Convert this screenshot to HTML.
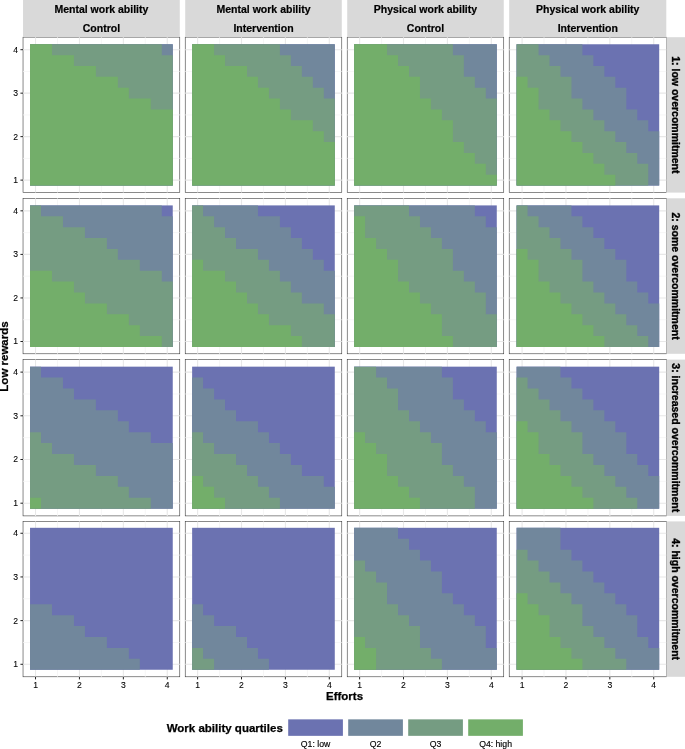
<!DOCTYPE html>
<html lang="en"><head><meta charset="utf-8"><title>Work ability quartiles</title>
<style>html,body{margin:0;padding:0;background:#fff}body{width:685px;height:749px;overflow:hidden;font-family:"Liberation Sans",Arial,Helvetica,sans-serif}svg{display:block}</style>
</head><body>
<svg width="685" height="749" viewBox="0 0 685 749" font-family="'Liberation Sans', Arial, Helvetica, sans-serif">
<rect width="685" height="749" fill="#fff"/>
<rect x="23.03" y="37.2" width="156.75" height="155.4" fill="#fff"/>
<rect x="23.03" y="37.2" width="156.75" height="155.4" fill="none" stroke="#2b2b2b" stroke-width="0.55"/>
<path d="M57.48 37.2V192.6M23.03 158.37H179.78" stroke="#F4F4F4" stroke-width="0.8" fill="none"/>
<path d="M101.39 37.2V192.6M23.03 114.9H179.78" stroke="#F4F4F4" stroke-width="0.8" fill="none"/>
<path d="M145.3 37.2V192.6M23.03 71.43H179.78" stroke="#F4F4F4" stroke-width="0.8" fill="none"/>
<path d="M35.52 37.2V192.6M23.03 180.11H179.78" stroke="#E8E8E8" stroke-width="1.1" fill="none"/>
<path d="M79.43 37.2V192.6M23.03 136.64H179.78" stroke="#E8E8E8" stroke-width="1.1" fill="none"/>
<path d="M123.35 37.2V192.6M23.03 93.16H179.78" stroke="#E8E8E8" stroke-width="1.1" fill="none"/>
<path d="M167.26 37.2V192.6M23.03 49.69H179.78" stroke="#E8E8E8" stroke-width="1.1" fill="none"/>
<rect x="30.03" y="44.26" width="142.72" height="141.28" fill="#6B72B1"/>
<path d="M30.03 44.26L172.75 44.26L172.75 55.13L172.75 55.13L172.75 66L172.75 66L172.75 76.86L172.75 76.86L172.75 87.73L172.75 87.73L172.75 98.6L172.75 98.6L172.75 109.47L172.75 109.47L172.75 120.33L172.75 120.33L172.75 131.2L172.75 131.2L172.75 142.07L172.75 142.07L172.75 152.94L172.75 152.94L172.75 163.8L172.75 163.8L172.75 174.67L172.75 174.67L172.75 185.54L30.03 185.54Z" fill="#71879C"/>
<path d="M30.03 44.26L161.77 44.26L161.77 55.13L172.75 55.13L172.75 66L172.75 66L172.75 76.86L172.75 76.86L172.75 87.73L172.75 87.73L172.75 98.6L172.75 98.6L172.75 109.47L172.75 109.47L172.75 120.33L172.75 120.33L172.75 131.2L172.75 131.2L172.75 142.07L172.75 142.07L172.75 152.94L172.75 152.94L172.75 163.8L172.75 163.8L172.75 174.67L172.75 174.67L172.75 185.54L30.03 185.54Z" fill="#759C82"/>
<path d="M30.03 44.26L51.99 44.26L51.99 55.13L73.94 55.13L73.94 66L95.9 66L95.9 76.86L117.86 76.86L117.86 87.73L128.84 87.73L128.84 98.6L150.79 98.6L150.79 109.47L172.75 109.47L172.75 120.33L172.75 120.33L172.75 131.2L172.75 131.2L172.75 142.07L172.75 142.07L172.75 152.94L172.75 152.94L172.75 163.8L172.75 163.8L172.75 174.67L172.75 174.67L172.75 185.54L30.03 185.54Z" fill="#73AE6A"/>
<path d="M20.43 180.11H23.03" stroke="#222222" stroke-width="1.0"/>
<text x="18.13" y="183.08" font-size="8.6" text-anchor="end" fill="#000" stroke="#000" stroke-width="0.1">1</text>
<path d="M20.43 136.64H23.03" stroke="#222222" stroke-width="1.0"/>
<text x="18.13" y="139.61" font-size="8.6" text-anchor="end" fill="#000" stroke="#000" stroke-width="0.1">2</text>
<path d="M20.43 93.16H23.03" stroke="#222222" stroke-width="1.0"/>
<text x="18.13" y="96.14" font-size="8.6" text-anchor="end" fill="#000" stroke="#000" stroke-width="0.1">3</text>
<path d="M20.43 49.69H23.03" stroke="#222222" stroke-width="1.0"/>
<text x="18.13" y="52.67" font-size="8.6" text-anchor="end" fill="#000" stroke="#000" stroke-width="0.1">4</text>
<rect x="185.21" y="37.2" width="156.57" height="155.4" fill="#fff"/>
<rect x="185.21" y="37.2" width="156.57" height="155.4" fill="none" stroke="#2b2b2b" stroke-width="0.55"/>
<path d="M219.56 37.2V192.6M185.21 158.37H341.78" stroke="#F4F4F4" stroke-width="0.8" fill="none"/>
<path d="M263.45 37.2V192.6M185.21 114.9H341.78" stroke="#F4F4F4" stroke-width="0.8" fill="none"/>
<path d="M307.35 37.2V192.6M185.21 71.43H341.78" stroke="#F4F4F4" stroke-width="0.8" fill="none"/>
<path d="M197.62 37.2V192.6M185.21 180.11H341.78" stroke="#E8E8E8" stroke-width="1.1" fill="none"/>
<path d="M241.51 37.2V192.6M185.21 136.64H341.78" stroke="#E8E8E8" stroke-width="1.1" fill="none"/>
<path d="M285.4 37.2V192.6M185.21 93.16H341.78" stroke="#E8E8E8" stroke-width="1.1" fill="none"/>
<path d="M329.29 37.2V192.6M185.21 49.69H341.78" stroke="#E8E8E8" stroke-width="1.1" fill="none"/>
<rect x="192.13" y="44.26" width="142.65" height="141.28" fill="#6B72B1"/>
<path d="M192.13 44.26L334.78 44.26L334.78 55.13L334.78 55.13L334.78 66L334.78 66L334.78 76.86L334.78 76.86L334.78 87.73L334.78 87.73L334.78 98.6L334.78 98.6L334.78 109.47L334.78 109.47L334.78 120.33L334.78 120.33L334.78 131.2L334.78 131.2L334.78 142.07L334.78 142.07L334.78 152.94L334.78 152.94L334.78 163.8L334.78 163.8L334.78 174.67L334.78 174.67L334.78 185.54L192.13 185.54Z" fill="#71879C"/>
<path d="M192.13 44.26L279.91 44.26L279.91 55.13L290.89 55.13L290.89 66L301.86 66L301.86 76.86L312.83 76.86L312.83 87.73L323.81 87.73L323.81 98.6L334.78 98.6L334.78 109.47L334.78 109.47L334.78 120.33L334.78 120.33L334.78 131.2L334.78 131.2L334.78 142.07L334.78 142.07L334.78 152.94L334.78 152.94L334.78 163.8L334.78 163.8L334.78 174.67L334.78 174.67L334.78 185.54L192.13 185.54Z" fill="#759C82"/>
<path d="M192.13 44.26L214.08 44.26L214.08 55.13L225.05 55.13L225.05 66L247 66L247 76.86L257.97 76.86L257.97 87.73L268.94 87.73L268.94 98.6L279.91 98.6L279.91 109.47L290.89 109.47L290.89 120.33L312.83 120.33L312.83 131.2L323.81 131.2L323.81 142.07L334.78 142.07L334.78 152.94L334.78 152.94L334.78 163.8L334.78 163.8L334.78 174.67L334.78 174.67L334.78 185.54L192.13 185.54Z" fill="#73AE6A"/>
<rect x="347.21" y="37.2" width="156.54" height="155.4" fill="#fff"/>
<rect x="347.21" y="37.2" width="156.54" height="155.4" fill="none" stroke="#2b2b2b" stroke-width="0.55"/>
<path d="M381.56 37.2V192.6M347.21 158.37H503.75" stroke="#F4F4F4" stroke-width="0.8" fill="none"/>
<path d="M425.45 37.2V192.6M347.21 114.9H503.75" stroke="#F4F4F4" stroke-width="0.8" fill="none"/>
<path d="M469.35 37.2V192.6M347.21 71.43H503.75" stroke="#F4F4F4" stroke-width="0.8" fill="none"/>
<path d="M359.62 37.2V192.6M347.21 180.11H503.75" stroke="#E8E8E8" stroke-width="1.1" fill="none"/>
<path d="M403.51 37.2V192.6M347.21 136.64H503.75" stroke="#E8E8E8" stroke-width="1.1" fill="none"/>
<path d="M447.4 37.2V192.6M347.21 93.16H503.75" stroke="#E8E8E8" stroke-width="1.1" fill="none"/>
<path d="M491.29 37.2V192.6M347.21 49.69H503.75" stroke="#E8E8E8" stroke-width="1.1" fill="none"/>
<rect x="354.13" y="44.26" width="142.65" height="141.28" fill="#6B72B1"/>
<path d="M354.13 44.26L496.78 44.26L496.78 55.13L496.78 55.13L496.78 66L496.78 66L496.78 76.86L496.78 76.86L496.78 87.73L496.78 87.73L496.78 98.6L496.78 98.6L496.78 109.47L496.78 109.47L496.78 120.33L496.78 120.33L496.78 131.2L496.78 131.2L496.78 142.07L496.78 142.07L496.78 152.94L496.78 152.94L496.78 163.8L496.78 163.8L496.78 174.67L496.78 174.67L496.78 185.54L354.13 185.54Z" fill="#71879C"/>
<path d="M354.13 44.26L452.89 44.26L452.89 55.13L463.86 55.13L463.86 66L463.86 66L463.86 76.86L474.83 76.86L474.83 87.73L485.81 87.73L485.81 98.6L496.78 98.6L496.78 109.47L496.78 109.47L496.78 120.33L496.78 120.33L496.78 131.2L496.78 131.2L496.78 142.07L496.78 142.07L496.78 152.94L496.78 152.94L496.78 163.8L496.78 163.8L496.78 174.67L496.78 174.67L496.78 185.54L354.13 185.54Z" fill="#759C82"/>
<path d="M354.13 44.26L387.05 44.26L387.05 55.13L398.02 55.13L398.02 66L409 66L409 76.86L419.97 76.86L419.97 87.73L419.97 87.73L419.97 98.6L430.94 98.6L430.94 109.47L441.91 109.47L441.91 120.33L452.89 120.33L452.89 131.2L452.89 131.2L452.89 142.07L463.86 142.07L463.86 152.94L474.83 152.94L474.83 163.8L485.81 163.8L485.81 174.67L496.78 174.67L496.78 185.54L354.13 185.54Z" fill="#73AE6A"/>
<rect x="509.2" y="37.2" width="157.1" height="155.4" fill="#fff"/>
<rect x="509.2" y="37.2" width="157.1" height="155.4" fill="none" stroke="#2b2b2b" stroke-width="0.55"/>
<path d="M544.02 37.2V192.6M509.2 158.37H666.3" stroke="#F4F4F4" stroke-width="0.8" fill="none"/>
<path d="M587.9 37.2V192.6M509.2 114.9H666.3" stroke="#F4F4F4" stroke-width="0.8" fill="none"/>
<path d="M631.78 37.2V192.6M509.2 71.43H666.3" stroke="#F4F4F4" stroke-width="0.8" fill="none"/>
<path d="M522.08 37.2V192.6M509.2 180.11H666.3" stroke="#E8E8E8" stroke-width="1.1" fill="none"/>
<path d="M565.96 37.2V192.6M509.2 136.64H666.3" stroke="#E8E8E8" stroke-width="1.1" fill="none"/>
<path d="M609.84 37.2V192.6M509.2 93.16H666.3" stroke="#E8E8E8" stroke-width="1.1" fill="none"/>
<path d="M653.72 37.2V192.6M509.2 49.69H666.3" stroke="#E8E8E8" stroke-width="1.1" fill="none"/>
<rect x="516.6" y="44.26" width="142.6" height="141.28" fill="#6B72B1"/>
<path d="M516.6 44.26L582.42 44.26L582.42 55.13L593.38 55.13L593.38 66L604.35 66L604.35 76.86L615.32 76.86L615.32 87.73L626.29 87.73L626.29 98.6L626.29 98.6L626.29 109.47L637.26 109.47L637.26 120.33L648.23 120.33L648.23 131.2L659.2 131.2L659.2 142.07L659.2 142.07L659.2 152.94L659.2 152.94L659.2 163.8L659.2 163.8L659.2 174.67L659.2 174.67L659.2 185.54L516.6 185.54Z" fill="#71879C"/>
<path d="M516.6 44.26L538.54 44.26L538.54 55.13L549.51 55.13L549.51 66L560.48 66L560.48 76.86L571.45 76.86L571.45 87.73L571.45 87.73L571.45 98.6L582.42 98.6L582.42 109.47L593.38 109.47L593.38 120.33L604.35 120.33L604.35 131.2L615.32 131.2L615.32 142.07L626.29 142.07L626.29 152.94L637.26 152.94L637.26 163.8L648.23 163.8L648.23 174.67L648.23 174.67L648.23 185.54L516.6 185.54Z" fill="#759C82"/>
<path d="M516.6 76.86L527.57 76.86L527.57 87.73L538.54 87.73L538.54 98.6L538.54 98.6L538.54 109.47L549.51 109.47L549.51 120.33L560.48 120.33L560.48 131.2L571.45 131.2L571.45 142.07L582.42 142.07L582.42 152.94L593.38 152.94L593.38 163.8L604.35 163.8L604.35 174.67L615.32 174.67L615.32 185.54L516.6 185.54Z" fill="#73AE6A"/>
<rect x="23.03" y="198.3" width="156.75" height="155.5" fill="#fff"/>
<rect x="23.03" y="198.3" width="156.75" height="155.5" fill="none" stroke="#2b2b2b" stroke-width="0.55"/>
<path d="M57.48 198.3V353.8M23.03 319.73H179.78" stroke="#F4F4F4" stroke-width="0.8" fill="none"/>
<path d="M101.39 198.3V353.8M23.03 276.18H179.78" stroke="#F4F4F4" stroke-width="0.8" fill="none"/>
<path d="M145.3 198.3V353.8M23.03 232.62H179.78" stroke="#F4F4F4" stroke-width="0.8" fill="none"/>
<path d="M35.52 198.3V353.8M23.03 341.51H179.78" stroke="#E8E8E8" stroke-width="1.1" fill="none"/>
<path d="M79.43 198.3V353.8M23.03 297.95H179.78" stroke="#E8E8E8" stroke-width="1.1" fill="none"/>
<path d="M123.35 198.3V353.8M23.03 254.4H179.78" stroke="#E8E8E8" stroke-width="1.1" fill="none"/>
<path d="M167.26 198.3V353.8M23.03 210.84H179.78" stroke="#E8E8E8" stroke-width="1.1" fill="none"/>
<rect x="30.03" y="205.4" width="142.72" height="141.55" fill="#6B72B1"/>
<path d="M30.03 205.4L161.77 205.4L161.77 216.29L172.75 216.29L172.75 227.18L172.75 227.18L172.75 238.07L172.75 238.07L172.75 248.95L172.75 248.95L172.75 259.84L172.75 259.84L172.75 270.73L172.75 270.73L172.75 281.62L172.75 281.62L172.75 292.51L172.75 292.51L172.75 303.4L172.75 303.4L172.75 314.28L172.75 314.28L172.75 325.17L172.75 325.17L172.75 336.06L172.75 336.06L172.75 346.95L30.03 346.95Z" fill="#71879C"/>
<path d="M30.03 205.4L41.01 205.4L41.01 216.29L62.97 216.29L62.97 227.18L84.92 227.18L84.92 238.07L106.88 238.07L106.88 248.95L117.86 248.95L117.86 259.84L139.81 259.84L139.81 270.73L161.77 270.73L161.77 281.62L172.75 281.62L172.75 292.51L172.75 292.51L172.75 303.4L172.75 303.4L172.75 314.28L172.75 314.28L172.75 325.17L172.75 325.17L172.75 336.06L172.75 336.06L172.75 346.95L30.03 346.95Z" fill="#759C82"/>
<path d="M30.03 270.73L51.99 270.73L51.99 281.62L73.94 281.62L73.94 292.51L84.92 292.51L84.92 303.4L106.88 303.4L106.88 314.28L128.84 314.28L128.84 325.17L139.81 325.17L139.81 336.06L161.77 336.06L161.77 346.95L30.03 346.95Z" fill="#73AE6A"/>
<path d="M20.43 341.51H23.03" stroke="#222222" stroke-width="1.0"/>
<text x="18.13" y="344.48" font-size="8.6" text-anchor="end" fill="#000" stroke="#000" stroke-width="0.1">1</text>
<path d="M20.43 297.95H23.03" stroke="#222222" stroke-width="1.0"/>
<text x="18.13" y="300.93" font-size="8.6" text-anchor="end" fill="#000" stroke="#000" stroke-width="0.1">2</text>
<path d="M20.43 254.4H23.03" stroke="#222222" stroke-width="1.0"/>
<text x="18.13" y="257.38" font-size="8.6" text-anchor="end" fill="#000" stroke="#000" stroke-width="0.1">3</text>
<path d="M20.43 210.84H23.03" stroke="#222222" stroke-width="1.0"/>
<text x="18.13" y="213.82" font-size="8.6" text-anchor="end" fill="#000" stroke="#000" stroke-width="0.1">4</text>
<rect x="185.21" y="198.3" width="156.57" height="155.5" fill="#fff"/>
<rect x="185.21" y="198.3" width="156.57" height="155.5" fill="none" stroke="#2b2b2b" stroke-width="0.55"/>
<path d="M219.56 198.3V353.8M185.21 319.73H341.78" stroke="#F4F4F4" stroke-width="0.8" fill="none"/>
<path d="M263.45 198.3V353.8M185.21 276.18H341.78" stroke="#F4F4F4" stroke-width="0.8" fill="none"/>
<path d="M307.35 198.3V353.8M185.21 232.62H341.78" stroke="#F4F4F4" stroke-width="0.8" fill="none"/>
<path d="M197.62 198.3V353.8M185.21 341.51H341.78" stroke="#E8E8E8" stroke-width="1.1" fill="none"/>
<path d="M241.51 198.3V353.8M185.21 297.95H341.78" stroke="#E8E8E8" stroke-width="1.1" fill="none"/>
<path d="M285.4 198.3V353.8M185.21 254.4H341.78" stroke="#E8E8E8" stroke-width="1.1" fill="none"/>
<path d="M329.29 198.3V353.8M185.21 210.84H341.78" stroke="#E8E8E8" stroke-width="1.1" fill="none"/>
<rect x="192.13" y="205.4" width="142.65" height="141.55" fill="#6B72B1"/>
<path d="M192.13 205.4L257.97 205.4L257.97 216.29L279.91 216.29L279.91 227.18L290.89 227.18L290.89 238.07L301.86 238.07L301.86 248.95L312.83 248.95L312.83 259.84L323.81 259.84L323.81 270.73L334.78 270.73L334.78 281.62L334.78 281.62L334.78 292.51L334.78 292.51L334.78 303.4L334.78 303.4L334.78 314.28L334.78 314.28L334.78 325.17L334.78 325.17L334.78 336.06L334.78 336.06L334.78 346.95L192.13 346.95Z" fill="#71879C"/>
<path d="M192.13 205.4L203.1 205.4L203.1 216.29L214.08 216.29L214.08 227.18L225.05 227.18L225.05 238.07L236.02 238.07L236.02 248.95L257.97 248.95L257.97 259.84L268.94 259.84L268.94 270.73L279.91 270.73L279.91 281.62L290.89 281.62L290.89 292.51L301.86 292.51L301.86 303.4L323.81 303.4L323.81 314.28L334.78 314.28L334.78 325.17L334.78 325.17L334.78 336.06L334.78 336.06L334.78 346.95L192.13 346.95Z" fill="#759C82"/>
<path d="M192.13 259.84L203.1 259.84L203.1 270.73L225.05 270.73L225.05 281.62L236.02 281.62L236.02 292.51L247 292.51L247 303.4L257.97 303.4L257.97 314.28L268.94 314.28L268.94 325.17L290.89 325.17L290.89 336.06L301.86 336.06L301.86 346.95L192.13 346.95Z" fill="#73AE6A"/>
<rect x="347.21" y="198.3" width="156.54" height="155.5" fill="#fff"/>
<rect x="347.21" y="198.3" width="156.54" height="155.5" fill="none" stroke="#2b2b2b" stroke-width="0.55"/>
<path d="M381.56 198.3V353.8M347.21 319.73H503.75" stroke="#F4F4F4" stroke-width="0.8" fill="none"/>
<path d="M425.45 198.3V353.8M347.21 276.18H503.75" stroke="#F4F4F4" stroke-width="0.8" fill="none"/>
<path d="M469.35 198.3V353.8M347.21 232.62H503.75" stroke="#F4F4F4" stroke-width="0.8" fill="none"/>
<path d="M359.62 198.3V353.8M347.21 341.51H503.75" stroke="#E8E8E8" stroke-width="1.1" fill="none"/>
<path d="M403.51 198.3V353.8M347.21 297.95H503.75" stroke="#E8E8E8" stroke-width="1.1" fill="none"/>
<path d="M447.4 198.3V353.8M347.21 254.4H503.75" stroke="#E8E8E8" stroke-width="1.1" fill="none"/>
<path d="M491.29 198.3V353.8M347.21 210.84H503.75" stroke="#E8E8E8" stroke-width="1.1" fill="none"/>
<rect x="354.13" y="205.4" width="142.65" height="141.55" fill="#6B72B1"/>
<path d="M354.13 205.4L474.83 205.4L474.83 216.29L485.81 216.29L485.81 227.18L496.78 227.18L496.78 238.07L496.78 238.07L496.78 248.95L496.78 248.95L496.78 259.84L496.78 259.84L496.78 270.73L496.78 270.73L496.78 281.62L496.78 281.62L496.78 292.51L496.78 292.51L496.78 303.4L496.78 303.4L496.78 314.28L496.78 314.28L496.78 325.17L496.78 325.17L496.78 336.06L496.78 336.06L496.78 346.95L354.13 346.95Z" fill="#71879C"/>
<path d="M354.13 205.4L409 205.4L409 216.29L419.97 216.29L419.97 227.18L430.94 227.18L430.94 238.07L441.91 238.07L441.91 248.95L452.89 248.95L452.89 259.84L452.89 259.84L452.89 270.73L463.86 270.73L463.86 281.62L474.83 281.62L474.83 292.51L485.81 292.51L485.81 303.4L485.81 303.4L485.81 314.28L496.78 314.28L496.78 325.17L496.78 325.17L496.78 336.06L496.78 336.06L496.78 346.95L354.13 346.95Z" fill="#759C82"/>
<path d="M354.13 216.29L365.1 216.29L365.1 227.18L365.1 227.18L365.1 238.07L376.08 238.07L376.08 248.95L387.05 248.95L387.05 259.84L398.02 259.84L398.02 270.73L398.02 270.73L398.02 281.62L409 281.62L409 292.51L419.97 292.51L419.97 303.4L430.94 303.4L430.94 314.28L441.91 314.28L441.91 325.17L441.91 325.17L441.91 336.06L452.89 336.06L452.89 346.95L354.13 346.95Z" fill="#73AE6A"/>
<rect x="509.2" y="198.3" width="157.1" height="155.5" fill="#fff"/>
<rect x="509.2" y="198.3" width="157.1" height="155.5" fill="none" stroke="#2b2b2b" stroke-width="0.55"/>
<path d="M544.02 198.3V353.8M509.2 319.73H666.3" stroke="#F4F4F4" stroke-width="0.8" fill="none"/>
<path d="M587.9 198.3V353.8M509.2 276.18H666.3" stroke="#F4F4F4" stroke-width="0.8" fill="none"/>
<path d="M631.78 198.3V353.8M509.2 232.62H666.3" stroke="#F4F4F4" stroke-width="0.8" fill="none"/>
<path d="M522.08 198.3V353.8M509.2 341.51H666.3" stroke="#E8E8E8" stroke-width="1.1" fill="none"/>
<path d="M565.96 198.3V353.8M509.2 297.95H666.3" stroke="#E8E8E8" stroke-width="1.1" fill="none"/>
<path d="M609.84 198.3V353.8M509.2 254.4H666.3" stroke="#E8E8E8" stroke-width="1.1" fill="none"/>
<path d="M653.72 198.3V353.8M509.2 210.84H666.3" stroke="#E8E8E8" stroke-width="1.1" fill="none"/>
<rect x="516.6" y="205.4" width="142.6" height="141.55" fill="#6B72B1"/>
<path d="M516.6 205.4L571.45 205.4L571.45 216.29L582.42 216.29L582.42 227.18L593.38 227.18L593.38 238.07L604.35 238.07L604.35 248.95L615.32 248.95L615.32 259.84L626.29 259.84L626.29 270.73L626.29 270.73L626.29 281.62L637.26 281.62L637.26 292.51L648.23 292.51L648.23 303.4L659.2 303.4L659.2 314.28L659.2 314.28L659.2 325.17L659.2 325.17L659.2 336.06L659.2 336.06L659.2 346.95L516.6 346.95Z" fill="#71879C"/>
<path d="M516.6 205.4L527.57 205.4L527.57 216.29L538.54 216.29L538.54 227.18L549.51 227.18L549.51 238.07L560.48 238.07L560.48 248.95L571.45 248.95L571.45 259.84L582.42 259.84L582.42 270.73L582.42 270.73L582.42 281.62L593.38 281.62L593.38 292.51L604.35 292.51L604.35 303.4L615.32 303.4L615.32 314.28L626.29 314.28L626.29 325.17L637.26 325.17L637.26 336.06L648.23 336.06L648.23 346.95L516.6 346.95Z" fill="#759C82"/>
<path d="M516.6 248.95L527.57 248.95L527.57 259.84L538.54 259.84L538.54 270.73L538.54 270.73L538.54 281.62L549.51 281.62L549.51 292.51L560.48 292.51L560.48 303.4L571.45 303.4L571.45 314.28L582.42 314.28L582.42 325.17L593.38 325.17L593.38 336.06L604.35 336.06L604.35 346.95L516.6 346.95Z" fill="#73AE6A"/>
<rect x="23.03" y="359.6" width="156.75" height="156.3" fill="#fff"/>
<rect x="23.03" y="359.6" width="156.75" height="156.3" fill="none" stroke="#2b2b2b" stroke-width="0.55"/>
<path d="M57.48 359.6V515.9M23.03 481.34H179.78" stroke="#F4F4F4" stroke-width="0.8" fill="none"/>
<path d="M101.39 359.6V515.9M23.03 437.65H179.78" stroke="#F4F4F4" stroke-width="0.8" fill="none"/>
<path d="M145.3 359.6V515.9M23.03 393.97H179.78" stroke="#F4F4F4" stroke-width="0.8" fill="none"/>
<path d="M35.52 359.6V515.9M23.03 503.19H179.78" stroke="#E8E8E8" stroke-width="1.1" fill="none"/>
<path d="M79.43 359.6V515.9M23.03 459.5H179.78" stroke="#E8E8E8" stroke-width="1.1" fill="none"/>
<path d="M123.35 359.6V515.9M23.03 415.81H179.78" stroke="#E8E8E8" stroke-width="1.1" fill="none"/>
<path d="M167.26 359.6V515.9M23.03 372.12H179.78" stroke="#E8E8E8" stroke-width="1.1" fill="none"/>
<rect x="30.03" y="366.66" width="142.72" height="141.99" fill="#6B72B1"/>
<path d="M30.03 366.66L41.01 366.66L41.01 377.58L62.97 377.58L62.97 388.5L73.94 388.5L73.94 399.43L95.9 399.43L95.9 410.35L117.86 410.35L117.86 421.27L128.84 421.27L128.84 432.19L150.79 432.19L150.79 443.12L172.75 443.12L172.75 454.04L172.75 454.04L172.75 464.96L172.75 464.96L172.75 475.88L172.75 475.88L172.75 486.81L172.75 486.81L172.75 497.73L172.75 497.73L172.75 508.65L30.03 508.65Z" fill="#71879C"/>
<path d="M30.03 432.19L41.01 432.19L41.01 443.12L51.99 443.12L51.99 454.04L73.94 454.04L73.94 464.96L95.9 464.96L95.9 475.88L117.86 475.88L117.86 486.81L128.84 486.81L128.84 497.73L150.79 497.73L150.79 508.65L30.03 508.65Z" fill="#759C82"/>
<path d="M30.03 497.73L41.01 497.73L41.01 508.65L30.03 508.65Z" fill="#73AE6A"/>
<path d="M20.43 503.19H23.03" stroke="#222222" stroke-width="1.0"/>
<text x="18.13" y="506.17" font-size="8.6" text-anchor="end" fill="#000" stroke="#000" stroke-width="0.1">1</text>
<path d="M20.43 459.5H23.03" stroke="#222222" stroke-width="1.0"/>
<text x="18.13" y="462.48" font-size="8.6" text-anchor="end" fill="#000" stroke="#000" stroke-width="0.1">2</text>
<path d="M20.43 415.81H23.03" stroke="#222222" stroke-width="1.0"/>
<text x="18.13" y="418.79" font-size="8.6" text-anchor="end" fill="#000" stroke="#000" stroke-width="0.1">3</text>
<path d="M20.43 372.12H23.03" stroke="#222222" stroke-width="1.0"/>
<text x="18.13" y="375.1" font-size="8.6" text-anchor="end" fill="#000" stroke="#000" stroke-width="0.1">4</text>
<rect x="185.21" y="359.6" width="156.57" height="156.3" fill="#fff"/>
<rect x="185.21" y="359.6" width="156.57" height="156.3" fill="none" stroke="#2b2b2b" stroke-width="0.55"/>
<path d="M219.56 359.6V515.9M185.21 481.34H341.78" stroke="#F4F4F4" stroke-width="0.8" fill="none"/>
<path d="M263.45 359.6V515.9M185.21 437.65H341.78" stroke="#F4F4F4" stroke-width="0.8" fill="none"/>
<path d="M307.35 359.6V515.9M185.21 393.97H341.78" stroke="#F4F4F4" stroke-width="0.8" fill="none"/>
<path d="M197.62 359.6V515.9M185.21 503.19H341.78" stroke="#E8E8E8" stroke-width="1.1" fill="none"/>
<path d="M241.51 359.6V515.9M185.21 459.5H341.78" stroke="#E8E8E8" stroke-width="1.1" fill="none"/>
<path d="M285.4 359.6V515.9M185.21 415.81H341.78" stroke="#E8E8E8" stroke-width="1.1" fill="none"/>
<path d="M329.29 359.6V515.9M185.21 372.12H341.78" stroke="#E8E8E8" stroke-width="1.1" fill="none"/>
<rect x="192.13" y="366.66" width="142.65" height="141.99" fill="#6B72B1"/>
<path d="M192.13 377.58L203.1 377.58L203.1 388.5L214.08 388.5L214.08 399.43L225.05 399.43L225.05 410.35L236.02 410.35L236.02 421.27L257.97 421.27L257.97 432.19L268.94 432.19L268.94 443.12L279.91 443.12L279.91 454.04L290.89 454.04L290.89 464.96L301.86 464.96L301.86 475.88L323.81 475.88L323.81 486.81L334.78 486.81L334.78 497.73L334.78 497.73L334.78 508.65L192.13 508.65Z" fill="#71879C"/>
<path d="M192.13 432.19L203.1 432.19L203.1 443.12L214.08 443.12L214.08 454.04L236.02 454.04L236.02 464.96L247 464.96L247 475.88L257.97 475.88L257.97 486.81L268.94 486.81L268.94 497.73L279.91 497.73L279.91 508.65L192.13 508.65Z" fill="#759C82"/>
<path d="M192.13 475.88L203.1 475.88L203.1 486.81L214.08 486.81L214.08 497.73L225.05 497.73L225.05 508.65L192.13 508.65Z" fill="#73AE6A"/>
<rect x="347.21" y="359.6" width="156.54" height="156.3" fill="#fff"/>
<rect x="347.21" y="359.6" width="156.54" height="156.3" fill="none" stroke="#2b2b2b" stroke-width="0.55"/>
<path d="M381.56 359.6V515.9M347.21 481.34H503.75" stroke="#F4F4F4" stroke-width="0.8" fill="none"/>
<path d="M425.45 359.6V515.9M347.21 437.65H503.75" stroke="#F4F4F4" stroke-width="0.8" fill="none"/>
<path d="M469.35 359.6V515.9M347.21 393.97H503.75" stroke="#F4F4F4" stroke-width="0.8" fill="none"/>
<path d="M359.62 359.6V515.9M347.21 503.19H503.75" stroke="#E8E8E8" stroke-width="1.1" fill="none"/>
<path d="M403.51 359.6V515.9M347.21 459.5H503.75" stroke="#E8E8E8" stroke-width="1.1" fill="none"/>
<path d="M447.4 359.6V515.9M347.21 415.81H503.75" stroke="#E8E8E8" stroke-width="1.1" fill="none"/>
<path d="M491.29 359.6V515.9M347.21 372.12H503.75" stroke="#E8E8E8" stroke-width="1.1" fill="none"/>
<rect x="354.13" y="366.66" width="142.65" height="141.99" fill="#6B72B1"/>
<path d="M354.13 366.66L441.91 366.66L441.91 377.58L452.89 377.58L452.89 388.5L452.89 388.5L452.89 399.43L463.86 399.43L463.86 410.35L474.83 410.35L474.83 421.27L485.81 421.27L485.81 432.19L496.78 432.19L496.78 443.12L496.78 443.12L496.78 454.04L496.78 454.04L496.78 464.96L496.78 464.96L496.78 475.88L496.78 475.88L496.78 486.81L496.78 486.81L496.78 497.73L496.78 497.73L496.78 508.65L354.13 508.65Z" fill="#71879C"/>
<path d="M354.13 366.66L376.08 366.66L376.08 377.58L387.05 377.58L387.05 388.5L398.02 388.5L398.02 399.43L398.02 399.43L398.02 410.35L409 410.35L409 421.27L419.97 421.27L419.97 432.19L430.94 432.19L430.94 443.12L441.91 443.12L441.91 454.04L441.91 454.04L441.91 464.96L452.89 464.96L452.89 475.88L463.86 475.88L463.86 486.81L474.83 486.81L474.83 497.73L474.83 497.73L474.83 508.65L354.13 508.65Z" fill="#759C82"/>
<path d="M354.13 432.19L365.1 432.19L365.1 443.12L376.08 443.12L376.08 454.04L387.05 454.04L387.05 464.96L387.05 464.96L387.05 475.88L398.02 475.88L398.02 486.81L409 486.81L409 497.73L419.97 497.73L419.97 508.65L354.13 508.65Z" fill="#73AE6A"/>
<rect x="509.2" y="359.6" width="157.1" height="156.3" fill="#fff"/>
<rect x="509.2" y="359.6" width="157.1" height="156.3" fill="none" stroke="#2b2b2b" stroke-width="0.55"/>
<path d="M544.02 359.6V515.9M509.2 481.34H666.3" stroke="#F4F4F4" stroke-width="0.8" fill="none"/>
<path d="M587.9 359.6V515.9M509.2 437.65H666.3" stroke="#F4F4F4" stroke-width="0.8" fill="none"/>
<path d="M631.78 359.6V515.9M509.2 393.97H666.3" stroke="#F4F4F4" stroke-width="0.8" fill="none"/>
<path d="M522.08 359.6V515.9M509.2 503.19H666.3" stroke="#E8E8E8" stroke-width="1.1" fill="none"/>
<path d="M565.96 359.6V515.9M509.2 459.5H666.3" stroke="#E8E8E8" stroke-width="1.1" fill="none"/>
<path d="M609.84 359.6V515.9M509.2 415.81H666.3" stroke="#E8E8E8" stroke-width="1.1" fill="none"/>
<path d="M653.72 359.6V515.9M509.2 372.12H666.3" stroke="#E8E8E8" stroke-width="1.1" fill="none"/>
<rect x="516.6" y="366.66" width="142.6" height="141.99" fill="#6B72B1"/>
<path d="M516.6 366.66L560.48 366.66L560.48 377.58L571.45 377.58L571.45 388.5L582.42 388.5L582.42 399.43L593.38 399.43L593.38 410.35L604.35 410.35L604.35 421.27L615.32 421.27L615.32 432.19L626.29 432.19L626.29 443.12L626.29 443.12L626.29 454.04L637.26 454.04L637.26 464.96L648.23 464.96L648.23 475.88L659.2 475.88L659.2 486.81L659.2 486.81L659.2 497.73L659.2 497.73L659.2 508.65L516.6 508.65Z" fill="#71879C"/>
<path d="M516.6 377.58L527.57 377.58L527.57 388.5L538.54 388.5L538.54 399.43L549.51 399.43L549.51 410.35L560.48 410.35L560.48 421.27L571.45 421.27L571.45 432.19L582.42 432.19L582.42 443.12L582.42 443.12L582.42 454.04L593.38 454.04L593.38 464.96L604.35 464.96L604.35 475.88L615.32 475.88L615.32 486.81L626.29 486.81L626.29 497.73L637.26 497.73L637.26 508.65L516.6 508.65Z" fill="#759C82"/>
<path d="M516.6 421.27L527.57 421.27L527.57 432.19L538.54 432.19L538.54 443.12L538.54 443.12L538.54 454.04L549.51 454.04L549.51 464.96L560.48 464.96L560.48 475.88L571.45 475.88L571.45 486.81L582.42 486.81L582.42 497.73L593.38 497.73L593.38 508.65L516.6 508.65Z" fill="#73AE6A"/>
<rect x="23.03" y="521.4" width="156.75" height="155.4" fill="#fff"/>
<rect x="23.03" y="521.4" width="156.75" height="155.4" fill="none" stroke="#2b2b2b" stroke-width="0.55"/>
<path d="M57.48 521.4V676.8M23.03 642.45H179.78" stroke="#F4F4F4" stroke-width="0.8" fill="none"/>
<path d="M101.39 521.4V676.8M23.03 598.77H179.78" stroke="#F4F4F4" stroke-width="0.8" fill="none"/>
<path d="M145.3 521.4V676.8M23.03 555.1H179.78" stroke="#F4F4F4" stroke-width="0.8" fill="none"/>
<path d="M35.52 521.4V676.8M23.03 664.29H179.78" stroke="#E8E8E8" stroke-width="1.1" fill="none"/>
<path d="M79.43 521.4V676.8M23.03 620.61H179.78" stroke="#E8E8E8" stroke-width="1.1" fill="none"/>
<path d="M123.35 521.4V676.8M23.03 576.94H179.78" stroke="#E8E8E8" stroke-width="1.1" fill="none"/>
<path d="M167.26 521.4V676.8M23.03 533.26H179.78" stroke="#E8E8E8" stroke-width="1.1" fill="none"/>
<rect x="30.03" y="527.8" width="142.72" height="141.95" fill="#6B72B1"/>
<path d="M30.03 604.23L51.99 604.23L51.99 615.15L73.94 615.15L73.94 626.07L84.92 626.07L84.92 636.99L106.88 636.99L106.88 647.91L128.84 647.91L128.84 658.83L139.81 658.83L139.81 669.75L30.03 669.75Z" fill="#71879C"/>
<path d="M20.43 664.29H23.03" stroke="#222222" stroke-width="1.0"/>
<text x="18.13" y="667.27" font-size="8.6" text-anchor="end" fill="#000" stroke="#000" stroke-width="0.1">1</text>
<path d="M20.43 620.61H23.03" stroke="#222222" stroke-width="1.0"/>
<text x="18.13" y="623.59" font-size="8.6" text-anchor="end" fill="#000" stroke="#000" stroke-width="0.1">2</text>
<path d="M20.43 576.94H23.03" stroke="#222222" stroke-width="1.0"/>
<text x="18.13" y="579.92" font-size="8.6" text-anchor="end" fill="#000" stroke="#000" stroke-width="0.1">3</text>
<path d="M20.43 533.26H23.03" stroke="#222222" stroke-width="1.0"/>
<text x="18.13" y="536.24" font-size="8.6" text-anchor="end" fill="#000" stroke="#000" stroke-width="0.1">4</text>
<path d="M35.52 676.8V679.4" stroke="#222222" stroke-width="1.0"/>
<text x="35.52" y="688.05" font-size="8.6" text-anchor="middle" fill="#000" stroke="#000" stroke-width="0.1">1</text>
<path d="M79.43 676.8V679.4" stroke="#222222" stroke-width="1.0"/>
<text x="79.43" y="688.05" font-size="8.6" text-anchor="middle" fill="#000" stroke="#000" stroke-width="0.1">2</text>
<path d="M123.35 676.8V679.4" stroke="#222222" stroke-width="1.0"/>
<text x="123.35" y="688.05" font-size="8.6" text-anchor="middle" fill="#000" stroke="#000" stroke-width="0.1">3</text>
<path d="M167.26 676.8V679.4" stroke="#222222" stroke-width="1.0"/>
<text x="167.26" y="688.05" font-size="8.6" text-anchor="middle" fill="#000" stroke="#000" stroke-width="0.1">4</text>
<rect x="185.21" y="521.4" width="156.57" height="155.4" fill="#fff"/>
<rect x="185.21" y="521.4" width="156.57" height="155.4" fill="none" stroke="#2b2b2b" stroke-width="0.55"/>
<path d="M219.56 521.4V676.8M185.21 642.45H341.78" stroke="#F4F4F4" stroke-width="0.8" fill="none"/>
<path d="M263.45 521.4V676.8M185.21 598.77H341.78" stroke="#F4F4F4" stroke-width="0.8" fill="none"/>
<path d="M307.35 521.4V676.8M185.21 555.1H341.78" stroke="#F4F4F4" stroke-width="0.8" fill="none"/>
<path d="M197.62 521.4V676.8M185.21 664.29H341.78" stroke="#E8E8E8" stroke-width="1.1" fill="none"/>
<path d="M241.51 521.4V676.8M185.21 620.61H341.78" stroke="#E8E8E8" stroke-width="1.1" fill="none"/>
<path d="M285.4 521.4V676.8M185.21 576.94H341.78" stroke="#E8E8E8" stroke-width="1.1" fill="none"/>
<path d="M329.29 521.4V676.8M185.21 533.26H341.78" stroke="#E8E8E8" stroke-width="1.1" fill="none"/>
<rect x="192.13" y="527.8" width="142.65" height="141.95" fill="#6B72B1"/>
<path d="M192.13 604.23L203.1 604.23L203.1 615.15L214.08 615.15L214.08 626.07L236.02 626.07L236.02 636.99L247 636.99L247 647.91L257.97 647.91L257.97 658.83L268.94 658.83L268.94 669.75L192.13 669.75Z" fill="#71879C"/>
<path d="M192.13 647.91L203.1 647.91L203.1 658.83L214.08 658.83L214.08 669.75L192.13 669.75Z" fill="#759C82"/>
<path d="M197.62 676.8V679.4" stroke="#222222" stroke-width="1.0"/>
<text x="197.62" y="688.05" font-size="8.6" text-anchor="middle" fill="#000" stroke="#000" stroke-width="0.1">1</text>
<path d="M241.51 676.8V679.4" stroke="#222222" stroke-width="1.0"/>
<text x="241.51" y="688.05" font-size="8.6" text-anchor="middle" fill="#000" stroke="#000" stroke-width="0.1">2</text>
<path d="M285.4 676.8V679.4" stroke="#222222" stroke-width="1.0"/>
<text x="285.4" y="688.05" font-size="8.6" text-anchor="middle" fill="#000" stroke="#000" stroke-width="0.1">3</text>
<path d="M329.29 676.8V679.4" stroke="#222222" stroke-width="1.0"/>
<text x="329.29" y="688.05" font-size="8.6" text-anchor="middle" fill="#000" stroke="#000" stroke-width="0.1">4</text>
<rect x="347.21" y="521.4" width="156.54" height="155.4" fill="#fff"/>
<rect x="347.21" y="521.4" width="156.54" height="155.4" fill="none" stroke="#2b2b2b" stroke-width="0.55"/>
<path d="M381.56 521.4V676.8M347.21 642.45H503.75" stroke="#F4F4F4" stroke-width="0.8" fill="none"/>
<path d="M425.45 521.4V676.8M347.21 598.77H503.75" stroke="#F4F4F4" stroke-width="0.8" fill="none"/>
<path d="M469.35 521.4V676.8M347.21 555.1H503.75" stroke="#F4F4F4" stroke-width="0.8" fill="none"/>
<path d="M359.62 521.4V676.8M347.21 664.29H503.75" stroke="#E8E8E8" stroke-width="1.1" fill="none"/>
<path d="M403.51 521.4V676.8M347.21 620.61H503.75" stroke="#E8E8E8" stroke-width="1.1" fill="none"/>
<path d="M447.4 521.4V676.8M347.21 576.94H503.75" stroke="#E8E8E8" stroke-width="1.1" fill="none"/>
<path d="M491.29 521.4V676.8M347.21 533.26H503.75" stroke="#E8E8E8" stroke-width="1.1" fill="none"/>
<rect x="354.13" y="527.8" width="142.65" height="141.95" fill="#6B72B1"/>
<path d="M354.13 527.8L398.02 527.8L398.02 538.72L409 538.72L409 549.64L419.97 549.64L419.97 560.56L430.94 560.56L430.94 571.48L441.91 571.48L441.91 582.4L441.91 582.4L441.91 593.32L452.89 593.32L452.89 604.23L463.86 604.23L463.86 615.15L474.83 615.15L474.83 626.07L485.81 626.07L485.81 636.99L485.81 636.99L485.81 647.91L496.78 647.91L496.78 658.83L496.78 658.83L496.78 669.75L354.13 669.75Z" fill="#71879C"/>
<path d="M354.13 560.56L365.1 560.56L365.1 571.48L376.08 571.48L376.08 582.4L387.05 582.4L387.05 593.32L387.05 593.32L387.05 604.23L398.02 604.23L398.02 615.15L409 615.15L409 626.07L419.97 626.07L419.97 636.99L419.97 636.99L419.97 647.91L430.94 647.91L430.94 658.83L441.91 658.83L441.91 669.75L354.13 669.75Z" fill="#759C82"/>
<path d="M354.13 636.99L365.1 636.99L365.1 647.91L376.08 647.91L376.08 658.83L376.08 658.83L376.08 669.75L354.13 669.75Z" fill="#73AE6A"/>
<path d="M359.62 676.8V679.4" stroke="#222222" stroke-width="1.0"/>
<text x="359.62" y="688.05" font-size="8.6" text-anchor="middle" fill="#000" stroke="#000" stroke-width="0.1">1</text>
<path d="M403.51 676.8V679.4" stroke="#222222" stroke-width="1.0"/>
<text x="403.51" y="688.05" font-size="8.6" text-anchor="middle" fill="#000" stroke="#000" stroke-width="0.1">2</text>
<path d="M447.4 676.8V679.4" stroke="#222222" stroke-width="1.0"/>
<text x="447.4" y="688.05" font-size="8.6" text-anchor="middle" fill="#000" stroke="#000" stroke-width="0.1">3</text>
<path d="M491.29 676.8V679.4" stroke="#222222" stroke-width="1.0"/>
<text x="491.29" y="688.05" font-size="8.6" text-anchor="middle" fill="#000" stroke="#000" stroke-width="0.1">4</text>
<rect x="509.2" y="521.4" width="157.1" height="155.4" fill="#fff"/>
<rect x="509.2" y="521.4" width="157.1" height="155.4" fill="none" stroke="#2b2b2b" stroke-width="0.55"/>
<path d="M544.02 521.4V676.8M509.2 642.45H666.3" stroke="#F4F4F4" stroke-width="0.8" fill="none"/>
<path d="M587.9 521.4V676.8M509.2 598.77H666.3" stroke="#F4F4F4" stroke-width="0.8" fill="none"/>
<path d="M631.78 521.4V676.8M509.2 555.1H666.3" stroke="#F4F4F4" stroke-width="0.8" fill="none"/>
<path d="M522.08 521.4V676.8M509.2 664.29H666.3" stroke="#E8E8E8" stroke-width="1.1" fill="none"/>
<path d="M565.96 521.4V676.8M509.2 620.61H666.3" stroke="#E8E8E8" stroke-width="1.1" fill="none"/>
<path d="M609.84 521.4V676.8M509.2 576.94H666.3" stroke="#E8E8E8" stroke-width="1.1" fill="none"/>
<path d="M653.72 521.4V676.8M509.2 533.26H666.3" stroke="#E8E8E8" stroke-width="1.1" fill="none"/>
<rect x="516.6" y="527.8" width="142.6" height="141.95" fill="#6B72B1"/>
<path d="M516.6 527.8L560.48 527.8L560.48 538.72L560.48 538.72L560.48 549.64L571.45 549.64L571.45 560.56L582.42 560.56L582.42 571.48L593.38 571.48L593.38 582.4L604.35 582.4L604.35 593.32L615.32 593.32L615.32 604.23L626.29 604.23L626.29 615.15L637.26 615.15L637.26 626.07L637.26 626.07L637.26 636.99L648.23 636.99L648.23 647.91L659.2 647.91L659.2 658.83L659.2 658.83L659.2 669.75L516.6 669.75Z" fill="#71879C"/>
<path d="M516.6 549.64L527.57 549.64L527.57 560.56L538.54 560.56L538.54 571.48L549.51 571.48L549.51 582.4L560.48 582.4L560.48 593.32L571.45 593.32L571.45 604.23L582.42 604.23L582.42 615.15L582.42 615.15L582.42 626.07L593.38 626.07L593.38 636.99L604.35 636.99L604.35 647.91L615.32 647.91L615.32 658.83L626.29 658.83L626.29 669.75L516.6 669.75Z" fill="#759C82"/>
<path d="M516.6 593.32L527.57 593.32L527.57 604.23L538.54 604.23L538.54 615.15L549.51 615.15L549.51 626.07L549.51 626.07L549.51 636.99L560.48 636.99L560.48 647.91L571.45 647.91L571.45 658.83L582.42 658.83L582.42 669.75L516.6 669.75Z" fill="#73AE6A"/>
<path d="M522.08 676.8V679.4" stroke="#222222" stroke-width="1.0"/>
<text x="522.08" y="688.05" font-size="8.6" text-anchor="middle" fill="#000" stroke="#000" stroke-width="0.1">1</text>
<path d="M565.96 676.8V679.4" stroke="#222222" stroke-width="1.0"/>
<text x="565.96" y="688.05" font-size="8.6" text-anchor="middle" fill="#000" stroke="#000" stroke-width="0.1">2</text>
<path d="M609.84 676.8V679.4" stroke="#222222" stroke-width="1.0"/>
<text x="609.84" y="688.05" font-size="8.6" text-anchor="middle" fill="#000" stroke="#000" stroke-width="0.1">3</text>
<path d="M653.72 676.8V679.4" stroke="#222222" stroke-width="1.0"/>
<text x="653.72" y="688.05" font-size="8.6" text-anchor="middle" fill="#000" stroke="#000" stroke-width="0.1">4</text>
<rect x="23.03" y="0" width="156.75" height="37.2" fill="#D9D9D9"/>
<text x="101.41" y="13.1" font-size="10.5" font-weight="bold" text-anchor="middle" fill="#000" stroke="#000" stroke-width="0.2">Mental work ability</text>
<text x="101.41" y="32.1" font-size="10.5" font-weight="bold" text-anchor="middle" fill="#000" stroke="#000" stroke-width="0.2">Control</text>
<rect x="185.21" y="0" width="156.57" height="37.2" fill="#D9D9D9"/>
<text x="263.5" y="13.1" font-size="10.5" font-weight="bold" text-anchor="middle" fill="#000" stroke="#000" stroke-width="0.2">Mental work ability</text>
<text x="263.5" y="32.1" font-size="10.5" font-weight="bold" text-anchor="middle" fill="#000" stroke="#000" stroke-width="0.2">Intervention</text>
<rect x="347.21" y="0" width="156.54" height="37.2" fill="#D9D9D9"/>
<text x="425.48" y="13.1" font-size="10.5" font-weight="bold" text-anchor="middle" fill="#000" stroke="#000" stroke-width="0.2">Physical work ability</text>
<text x="425.48" y="32.1" font-size="10.5" font-weight="bold" text-anchor="middle" fill="#000" stroke="#000" stroke-width="0.2">Control</text>
<rect x="509.2" y="0" width="157.1" height="37.2" fill="#D9D9D9"/>
<text x="587.75" y="13.1" font-size="10.5" font-weight="bold" text-anchor="middle" fill="#000" stroke="#000" stroke-width="0.2">Physical work ability</text>
<text x="587.75" y="32.1" font-size="10.5" font-weight="bold" text-anchor="middle" fill="#000" stroke="#000" stroke-width="0.2">Intervention</text>
<rect x="666.45" y="37.2" width="18.55" height="155.4" fill="#D9D9D9"/>
<text transform="translate(671.9,114.9) rotate(90)" font-size="10.5" font-weight="bold" text-anchor="middle" fill="#000" stroke="#000" stroke-width="0.35">1: low overcommitment</text>
<rect x="666.45" y="198.3" width="18.55" height="155.5" fill="#D9D9D9"/>
<text transform="translate(671.9,276.05) rotate(90)" font-size="10.5" font-weight="bold" text-anchor="middle" fill="#000" stroke="#000" stroke-width="0.35">2: some overcommitment</text>
<rect x="666.45" y="359.6" width="18.55" height="156.3" fill="#D9D9D9"/>
<text transform="translate(671.9,437.75) rotate(90)" font-size="10.5" font-weight="bold" text-anchor="middle" fill="#000" stroke="#000" stroke-width="0.35">3: increased overcommitment</text>
<rect x="666.45" y="521.4" width="18.55" height="155.4" fill="#D9D9D9"/>
<text transform="translate(671.9,599.1) rotate(90)" font-size="10.5" font-weight="bold" text-anchor="middle" fill="#000" stroke="#000" stroke-width="0.35">4: high overcommitment</text>
<text x="344.5" y="700.4" font-size="11.5" font-weight="bold" text-anchor="middle" fill="#000" stroke="#000" stroke-width="0.25">Efforts</text>
<text transform="translate(8.15,356.5) rotate(-90)" font-size="11.5" font-weight="bold" text-anchor="middle" fill="#000" stroke="#000" stroke-width="0.25">Low rewards</text>
<text x="282.8" y="731.7" font-size="11.5" font-weight="bold" text-anchor="end" fill="#000" stroke="#000" stroke-width="0.25">Work ability quartiles</text>
<rect x="288.2" y="719.35" width="54.7" height="16.5" fill="#6B72B1"/>
<text x="315.55" y="747.2" font-size="8.7" text-anchor="middle" fill="#000" stroke="#000" stroke-width="0.15">Q1: low</text>
<rect x="348.2" y="719.35" width="54.7" height="16.5" fill="#71879C"/>
<text x="375.55" y="747.2" font-size="8.7" text-anchor="middle" fill="#000" stroke="#000" stroke-width="0.15">Q2</text>
<rect x="408.2" y="719.35" width="54.7" height="16.5" fill="#759C82"/>
<text x="435.55" y="747.2" font-size="8.7" text-anchor="middle" fill="#000" stroke="#000" stroke-width="0.15">Q3</text>
<rect x="468.2" y="719.35" width="54.7" height="16.5" fill="#73AE6A"/>
<text x="495.55" y="747.2" font-size="8.7" text-anchor="middle" fill="#000" stroke="#000" stroke-width="0.15">Q4: high</text>
</svg>
</body></html>
